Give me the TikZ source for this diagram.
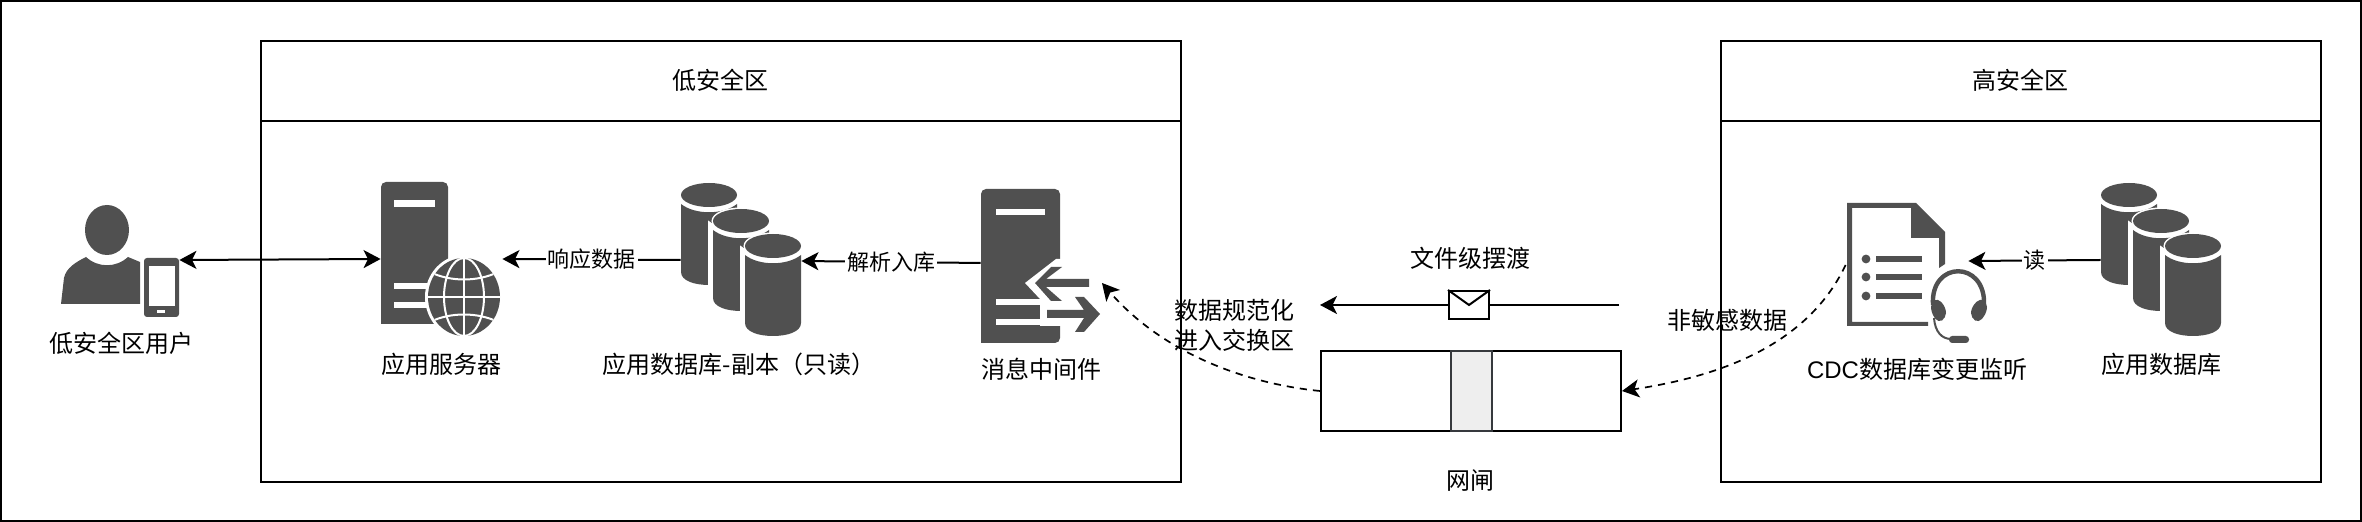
\documentclass[tikz,border=0pt]{standalone}
\usepackage{fontspec}
\setmainfont{Noto Sans CJK SC}
\newfontfamily\latinface{Liberation Sans}
\usetikzlibrary{arrows.meta}
\definecolor{icondark}{HTML}{505050}
\definecolor{bandfill}{HTML}{EEEEEE}
\definecolor{bandline}{HTML}{36393D}
\tikzset{
  x=0.5pt,y=-0.5pt,
  frame/.style={draw=black,line width=1pt,fill=white},
  plainline/.style={draw=black,line width=1pt},
  flow/.style={plainline,-{Stealth[length=8.5pt,width=9pt,inset=2.2pt]}},
  twoway/.style={plainline,{Stealth[length=8.5pt,width=9pt,inset=2.2pt]}-{Stealth[length=8.5pt,width=9pt,inset=2.2pt]}},
  dashflow/.style={flow,dash pattern=on 3.6pt off 3pt},
  bigtext/.style={inner sep=0pt,align=center,font=\fontsize{12pt}{15pt}\selectfont},
  edgetext/.style={inner sep=1pt,fill=white,font=\fontsize{11pt}{13pt}\selectfont},
  iconbox/.style={inner sep=0pt,minimum width=#1,minimum height=10pt},
  dark/.style={fill=icondark},
  gap/.style={fill=white},
}
\newcommand\dbcyl[2]{%
  \begin{scope}[shift={(#1,#2)}]
    \def\cylbody{(-28,9) .. controls (-14,20) and (14,20) .. (28,9) -- (28,77)
      .. controls (28,86) and (14,90) .. (0,90) .. controls (-14,90) and (-28,86) .. (-28,77) -- cycle}
    \path[draw=white,line width=5pt,fill=white] \cylbody;
    \fill[dark] \cylbody;
    \path[draw=white,line width=1.5pt,fill=white] (0,0) ellipse [x radius=14pt,y radius=6pt];
    \fill[dark] (0,0) ellipse [x radius=14pt,y radius=6pt];
  \end{scope}}
\newcommand\dbstack[2]{%
  \dbcyl{#1}{#2}\dbcyl{#1+32}{#2+26}\dbcyl{#1+64}{#2+51}}
\begin{document}
\begin{tikzpicture}
\useasboundingbox (0,0) rectangle (2362,522);
\path[fill=white] (0,0) rectangle (2362,522);
\draw[frame] (1,1) rectangle (2361,521);

% zones
\draw[frame] (261,41) rectangle (1181,482);
\draw[plainline] (261,121) -- (1181,121);
\draw[frame] (1721,41) rectangle (2321,482);
\draw[plainline] (1721,121) -- (2321,121);
\node[bigtext] (lowtitle) at (720,80) {低安全区};
\node[bigtext] (hightitle) at (2020,80) {高安全区};

% user icon
\fill[dark] (107,230) ellipse [x radius=11pt,y radius=12.5pt];
\fill[dark] (61,304) -- (64,278) .. controls (66,268) and (76,262) .. (86,257)
  .. controls (98,268) and (116,268) .. (128,257) -- (140,262) -- (140,304) -- cycle;
\fill[dark,rounded corners=1.5pt] (144,258) rectangle (179,317);
\fill[gap] (149,266) rectangle (175,306);
\fill[gap] (157,310) rectangle (165,313);
\node[iconbox=59pt] (user) at (120,260) {};
\node[bigtext] (usertext) at (121,343) {低安全区用户};

% server icon
\fill[dark,rounded corners=2.5pt] (381,324) -- (381,182) -- (448,182) -- (448,324) [sharp corners] -- cycle;
\fill[gap] (394,200) rectangle (435,207);
\fill[gap] (394,283) rectangle (430,289);
\fill[gap] (394,302) rectangle (430,308);
\fill[gap] (464,297) ellipse [x radius=19.5pt,y radius=21pt];
\begin{scope}
  \clip (464,297) ellipse [x radius=18pt,y radius=19.5pt];
  \fill[dark] (420,250) rectangle (510,345);
  \draw[white,line width=1pt] (464,250) -- (464,345);
  \draw[white,line width=1pt] (464,297) ellipse [x radius=10pt,y radius=19.5pt];
  \draw[white,line width=1pt] (425,297) -- (505,297);
  \draw[white,line width=1pt] (430,272) .. controls (450,282) and (478,282) .. (498,272);
  \draw[white,line width=1pt] (430,322) .. controls (450,312) and (478,312) .. (498,322);
\end{scope}
\node[iconbox=60.5pt] (server) at (441.5,259) {};
\node[bigtext] (servertext) at (441,364) {应用服务器};

% db copy icon
\dbstack{709}{195}
\node[iconbox=60pt] (dbcopy) at (741,260) {};
\node[bigtext] (dbcopytext) at (739,364) {应用数据库-副本（只读）};

% message middleware icon
\fill[dark,rounded corners=2.5pt] (981,343) -- (981,189) -- (1060,189) -- (1060,343) [sharp corners] -- cycle;
\fill[gap] (996,209) rectangle (1045,215);
\fill[gap] (996,299) rectangle (1042,305);
\fill[gap] (996,319) rectangle (1042,325);
\fill[gap] (1062,259) -- (1056,259) -- (1025,283) -- (1040,299) -- (1040,326) -- (1062,326) -- cycle;
\fill[dark] (1035,283) -- (1051,267) -- (1062,267) -- (1046,279) -- (1089,279) -- (1089,287) -- (1046,287) -- (1062,301) -- (1051,301) -- cycle;
\fill[dark] (1047,310) -- (1084,310) -- (1075,297) -- (1084,297) -- (1100,314) -- (1084,332) -- (1075,332) -- (1084,318) -- (1047,318) -- cycle;
\node[iconbox=60.5pt] (msg) at (1041.5,263) {};
\node[bigtext] (msgtext) at (1041,369) {消息中间件};

% cdc icon
\fill[dark] (1847,203) -- (1916,203) -- (1945,232) -- (1945,264) -- (1939,268) -- (1939,238)
  -- (1911,238) -- (1911,208) -- (1852,208) -- (1852,322) -- (1928,322) -- (1928,326) -- (1847,326) -- cycle;
\fill[dark] (1866,259) circle [radius=2.2pt];
\fill[dark] (1866,277) circle [radius=2.2pt];
\fill[dark] (1866,296) circle [radius=2.2pt];
\fill[dark] (1876,256) rectangle (1922,262);
\fill[dark] (1876,274) rectangle (1922,280);
\fill[dark] (1876,293) rectangle (1922,299);
\draw[icondark,line width=2.2pt] (1933,305) .. controls (1930,260) and (1986,260) .. (1984,305);
\fill[dark,rounded corners=2.5pt] (1931,302) -- (1938,298) -- (1946,308) -- (1946,318) -- (1938,323) -- (1931,312) -- cycle;
\fill[dark,rounded corners=2.5pt] (1987,302) -- (1980,298) -- (1971,308) -- (1971,318) -- (1979,323) -- (1987,312) -- cycle;
\draw[icondark,line width=1pt] (1934,318) .. controls (1935,332) and (1942,339) .. (1951,339);
\fill[dark,rounded corners=1.6pt] (1949,336) rectangle (1969,343);
\node[iconbox=61pt] (cdc) at (1907,261) {};
\node[bigtext] (cdctext) at (1917,369) {{\latinface CDC}数据库变更监听};

% db icon
\dbstack{2129}{195}
\node[iconbox=60pt] (db) at (2161,260) {};
\node[bigtext] (dbtext) at (2161,364) {应用数据库};

% gate
\node[inner sep=0pt,minimum width=150pt,minimum height=40pt,frame] (gate) at (1471,391) {};
\node[inner sep=0pt,minimum width=20.5pt,minimum height=40pt,draw=bandline,fill=bandfill,line width=1pt] (band) at (1471.5,391) {};
\node[bigtext] (gatetext) at (1470,481) {网闸};

% file transfer
\coordinate (filestart) at (1619,305);
\coordinate (fileend) at (1320,305);
\draw[flow] (filestart) -- (fileend);
\node[inner sep=0pt,minimum width=20pt,minimum height=14pt,frame] (env) at (1469,305) {};
\draw[plainline] (env.north west) -- (env.center) -- (env.north east);
\node[bigtext] (filetext) at (1470,258) {文件级摆渡};

% connectors
\draw[twoway] (user.east) -- (server.west);
\draw[flow] (dbcopy.west) -- node[edgetext] (resp) {响应数据} (server.east);
\draw[flow] (msg.west) -- node[edgetext] (parse) {解析入库} ([yshift=-0.5pt]dbcopy.east);
\draw[flow] (db.west) -- node[edgetext] (rd) {读} (cdc.east);
\coordinate (msgport) at (1102,283);
\draw[dashflow,line width=0.85pt] (gate.west) .. controls (1240,383) and (1160,350) .. (msgport);
\draw[dashflow,line width=0.85pt] ([yshift=-2pt]cdc.west) .. controls (1810,340) and (1730,375) .. (gate.east);

\node[bigtext] (normtext) at (1234,325) {数据规范化\\进入交换区};
\node[bigtext] (nonsens) at (1727,320) {非敏感数据};
\end{tikzpicture}
\end{document}
